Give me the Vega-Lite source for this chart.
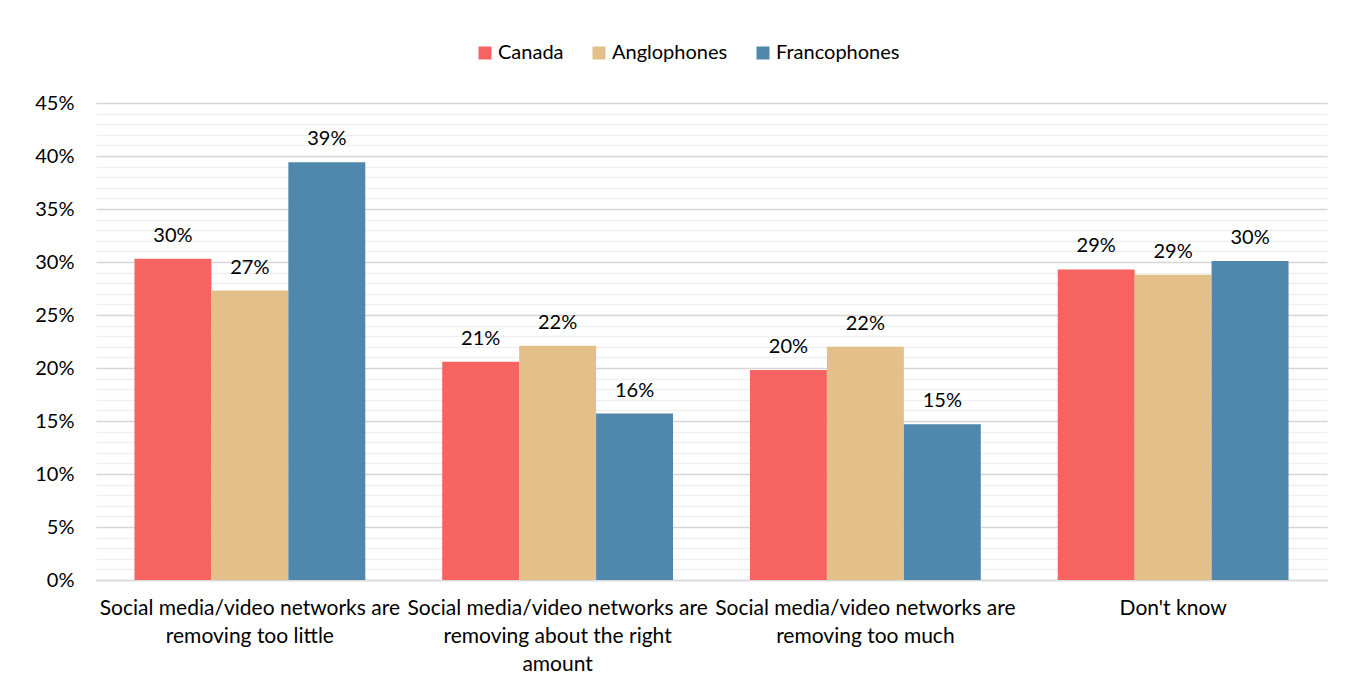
{
  "$schema": "https://vega.github.io/schema/vega-lite/v6.json",
  "autosize": "none",
  "width": 1231,
  "height": 477,
  "padding": {"left": 96, "top": 103, "right": 42, "bottom": 111},
  "background": "white",
  "config": {
    "font": "Lato",
    "view": {"stroke": null},
    "axis": {"labelFont": "Lato", "labelColor": "#000000", "labelFontSize": 20, "ticks": false, "title": null}
  },
  "data": {
    "values": [
      {"category": "Social media/video networks are removing too little", "group": "Canada", "value": 0.303},
      {"category": "Social media/video networks are removing too little", "group": "Anglophones", "value": 0.273},
      {"category": "Social media/video networks are removing too little", "group": "Francophones", "value": 0.394},
      {"category": "Social media/video networks are removing about the right amount", "group": "Canada", "value": 0.206},
      {"category": "Social media/video networks are removing about the right amount", "group": "Anglophones", "value": 0.221},
      {"category": "Social media/video networks are removing about the right amount", "group": "Francophones", "value": 0.157},
      {"category": "Social media/video networks are removing too much", "group": "Canada", "value": 0.198},
      {"category": "Social media/video networks are removing too much", "group": "Anglophones", "value": 0.220},
      {"category": "Social media/video networks are removing too much", "group": "Francophones", "value": 0.147},
      {"category": "Don't know", "group": "Canada", "value": 0.293},
      {"category": "Don't know", "group": "Anglophones", "value": 0.288},
      {"category": "Don't know", "group": "Francophones", "value": 0.301}
    ]
  },
  "encoding": {
    "x": {
      "field": "category",
      "type": "nominal",
      "sort": null,
      "scale": {"paddingInner": 0.25, "paddingOuter": 0.125},
      "axis": {
        "labelAngle": 0,
        "labelLimit": 500,
        "labelPadding": 17,
        "labelBaseline": "top",
        "labelLineHeight": 28,
        "labelFontSize": 21,
        "domainColor": "#d9d9d9",
        "domainWidth": 1.5,
        "labelExpr": "datum.value === 'Social media/video networks are removing too little' ? ['Social media/video networks are', 'removing too little'] : datum.value === 'Social media/video networks are removing about the right amount' ? ['Social media/video networks are', 'removing about the right', 'amount'] : datum.value === 'Social media/video networks are removing too much' ? ['Social media/video networks are', 'removing too much'] : datum.value"
      }
    },
    "xOffset": {
      "field": "group",
      "type": "nominal",
      "sort": ["Canada", "Anglophones", "Francophones"],
      "scale": {"paddingInner": 0, "paddingOuter": 0}
    },
    "y": {
      "field": "value",
      "type": "quantitative",
      "scale": {"domain": [0, 0.45], "nice": false},
      "axis": {
        "values": [0, 0.01, 0.02, 0.03, 0.04, 0.05, 0.06, 0.07, 0.08, 0.09, 0.1, 0.11, 0.12, 0.13, 0.14, 0.15, 0.16, 0.17, 0.18, 0.19, 0.2, 0.21, 0.22, 0.23, 0.24, 0.25, 0.26, 0.27, 0.28, 0.29, 0.3, 0.31, 0.32, 0.33, 0.34, 0.35, 0.36, 0.37, 0.38, 0.39, 0.4, 0.41, 0.42, 0.43, 0.44, 0.45],
        "labelExpr": "round(datum.value * 100) % 5 === 0 ? format(datum.value, '.0%') : ''",
        "labelPadding": 22,
        "domain": false,
        "grid": true,
        "gridColor": {"condition": {"test": "round(datum.value * 100) % 5 === 0", "value": "#d6d6d6"}, "value": "#efefef"},
        "gridWidth": 1.6
      }
    }
  },
  "layer": [
    {
      "mark": {"type": "bar"},
      "encoding": {
        "color": {
          "field": "group",
          "type": "nominal",
          "sort": ["Canada", "Anglophones", "Francophones"],
          "scale": {"domain": ["Canada", "Anglophones", "Francophones"], "range": ["#f76361", "#e3c08a", "#4f87ad"]},
          "legend": {
            "title": null,
            "orient": "none",
            "direction": "horizontal",
            "legendX": 379,
            "legendY": -60,
            "symbolType": "square",
            "symbolSize": 169,
            "symbolStrokeWidth": 0,
            "symbolOpacity": 1,
            "labelFont": "Lato",
            "labelFontSize": 20,
            "labelColor": "#000000",
            "labelOffset": 3,
            "columnPadding": 25
          }
        }
      }
    },
    {
      "mark": {"type": "text", "baseline": "alphabetic", "dy": -17, "fontSize": 20, "font": "Lato", "color": "#000000"},
      "encoding": {
        "text": {"field": "value", "type": "quantitative", "format": ".0%"}
      }
    }
  ]
}
